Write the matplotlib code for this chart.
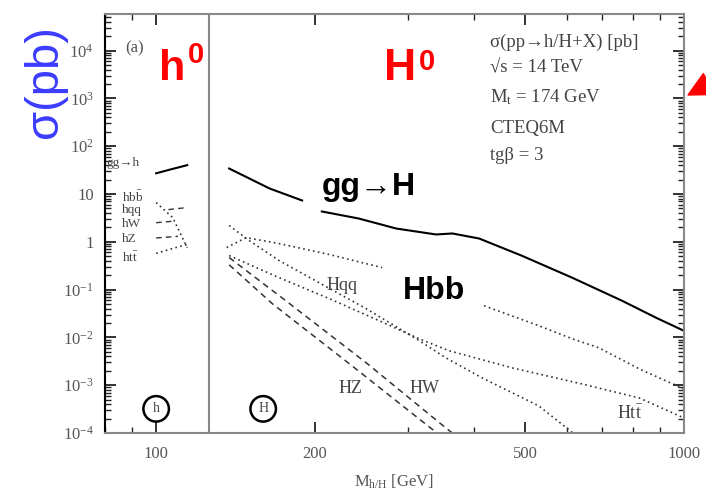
import numpy as np
import matplotlib.pyplot as plt
from matplotlib.ticker import FixedLocator, LogLocator, NullFormatter

plt.rcParams['font.family'] = ['Liberation Serif', 'DejaVu Serif']
plt.rcParams['mathtext.fontset'] = 'custom'
plt.rcParams['mathtext.rm'] = 'Liberation Serif'
plt.rcParams['mathtext.it'] = 'Liberation Serif:italic'

# light scalar h (M_h in GeV, sigma in pb)
m_gg_h = [100, 107, 114.5]
s_gg_h = [27, 33, 40]
m_hbb = [100, 107.5, 114.5]
s_hbb = [6.6, 3.2, 0.75]
m_hqq = [105.5, 114.5]
s_hqq = [4.7, 5.2]
m_hW = [100, 104, 108]
s_hW = [2.5, 2.6, 2.7]
m_hZ = [100, 105, 110]
s_hZ = [1.2, 1.25, 1.3]
m_htt = [100, 110, 114.5]
s_htt = [0.57, 0.78, 0.87]

# heavy scalar H
m_gg_H1 = [137.5, 164, 189]
s_gg_H1 = [34, 13, 7.3]
m_gg_H2 = [206, 242, 285, 339, 364, 409, 493, 614, 763, 885, 1000]
s_gg_H2 = [4.3, 3.06, 1.89, 1.42, 1.49, 1.17, 0.51, 0.177, 0.0585, 0.0258, 0.0137]
m_Hbb1 = [136, 148, 171, 213, 268]
s_Hbb1 = [0.755, 1.22, 0.916, 0.54, 0.288]
m_Hbb2 = [418, 531, 614, 690, 822, 1000]
s_Hbb2 = [0.0459, 0.0175, 0.00935, 0.00605, 0.0022, 0.000835]
m_Hqq = [137.5, 150, 171, 210, 250, 311, 354, 414.5, 531, 616]
s_Hqq = [2.19, 1.06, 0.404, 0.115, 0.0398, 0.00935, 0.00373, 0.00142, 0.000368, 0.0001]
m_Htt = [137.5, 171, 213, 264.5, 315, 359, 472, 641, 822, 1000]
s_Htt = [0.514, 0.177, 0.0644, 0.0223, 0.00935, 0.00524, 0.00231, 0.00106, 0.000542, 0.000206]
m_HW = [137.5, 176, 250, 354, 364]
s_HW = [0.467, 0.0585, 0.00294, 0.000127, 0.0001]
m_HZ = [137.5, 166, 235, 333, 341]
s_HZ = [0.33, 0.0506, 0.00254, 0.000121, 0.0001]

y_ticks = [1e-4, 1e-3, 1e-2, 1e-1, 1, 10, 1e2, 1e3, 1e4]
y_labels = ['10$^{-4}$', '10$^{-3}$', '10$^{-2}$', '10$^{-1}$', '1', '10',
            '10$^{2}$', '10$^{3}$', '10$^{4}$']
x_ticks = [100, 200, 500, 1000]
x_labels = ['100', '200', '500', '1000']

fig = plt.figure(figsize=(7.06, 4.93), dpi=100)
ax = fig.add_axes([105/706, 1-433/493, 579/706, 419/493])
ax.set_xscale('log')
ax.set_yscale('log')
ax.set_xlim(80, 1000)
ax.set_ylim(1e-4, 5.8e4)

dot = (0, (1, 2))
dash = (0, (4, 3))
ink = '#333333'
ax.plot(m_gg_h, s_gg_h, color='black', lw=1.5)
ax.plot(m_hbb, s_hbb, color=ink, lw=1.2, ls=dot)
ax.plot(m_hqq, s_hqq, color=ink, lw=1.0, ls=dash)
ax.plot(m_hW, s_hW, color=ink, lw=1.0, ls=dash)
ax.plot(m_hZ, s_hZ, color=ink, lw=1.0, ls=dash)
ax.plot(m_htt, s_htt, color=ink, lw=1.2, ls=dot)

ax.plot(m_gg_H1, s_gg_H1, color='black', lw=1.5)
ax.plot(m_gg_H2, s_gg_H2, color='black', lw=1.5)
ax.plot(m_Hbb1, s_Hbb1, color=ink, lw=1.2, ls=dot)
ax.plot(m_Hbb2, s_Hbb2, color=ink, lw=1.2, ls=dot)
ax.plot(m_Hqq, s_Hqq, color=ink, lw=1.2, ls=dot)
ax.plot(m_Htt, s_Htt, color=ink, lw=1.2, ls=dot)
ax.plot(m_HW, s_HW, color=ink, lw=1.1, ls=dash)
ax.plot(m_HZ, s_HZ, color=ink, lw=1.1, ls=dash)

ax.axvline(126, color='#888888', lw=1.5)

ax.yaxis.set_major_locator(FixedLocator(y_ticks))
ax.set_yticklabels(y_labels)
ax.yaxis.set_minor_locator(LogLocator(base=10, subs=np.arange(2, 10), numticks=20))
ax.yaxis.set_minor_formatter(NullFormatter())
ax.xaxis.set_major_locator(FixedLocator(x_ticks))
ax.set_xticklabels(x_labels)
ax.xaxis.set_minor_locator(LogLocator(base=10, subs=np.arange(2, 10), numticks=20))
ax.xaxis.set_minor_formatter(NullFormatter())
ax.tick_params(which='both', direction='in', top=True, right=True, colors='#222222',
               labelcolor='#555555', labelsize=12)
ax.tick_params(which='major', length=8, width=1.3)
ax.tick_params(which='minor', length=4, width=1.0)
ax.tick_params(axis='y', pad=8)
ax.tick_params(axis='x', pad=9)
for s in ax.spines.values():
    s.set_color('#888888')
    s.set_linewidth(1.5)
ax.spines['left'].set_color('black')
ax.set_xlabel('M$_{\\rm h/H}$ [GeV]', fontsize=12, color='#555555', labelpad=8)

# curve labels
small = dict(color='#444444', fontsize=9.5, va='center', ha='left')
ax.text(87.5, 1.1e4, '(a)', color='#555555', fontsize=12, va='center')
ax.text(80.4, 45, 'gg\u2192h', **small)
ax.text(86.2, 8.4, 'hb$\\bar{\\rm b}$', **small)
ax.text(86.2, 4.6, 'hqq', **small)
ax.text(86.2, 2.35, 'hW', **small)
ax.text(86.2, 1.12, 'hZ', **small)
ax.text(86.2, 0.467, 'ht$\\bar{\\rm t}$', **small)
mid = dict(color='#444444', fontsize=13, va='center', ha='center')
ax.text(225, 0.121, 'Hqq', **mid)
ax.text(233, 8.4e-4, 'HZ', **mid)
ax.text(322, 8.4e-4, 'HW', **mid)
ax.text(790, 2.5e-4, 'Ht$\\bar{\\rm t}$', **mid)
circ = dict(boxstyle='circle,pad=0.45', fc='white', ec='black', lw=1.8)
ax.text(100, 3.2e-4, 'h', fontsize=10, ha='center', va='center', color='#444444', bbox=circ)
ax.text(159.5, 3.2e-4, 'H', fontsize=10, ha='center', va='center', color='#444444', bbox=circ)

sans = ['Liberation Sans', 'DejaVu Sans']
ax.text(206, 9.3, 'gg\u2192H', family=sans, fontweight='bold', fontsize=23,
        va='baseline', ha='left', color='black')
ax.text(294, 0.0644, 'Hbb', family=sans, fontweight='bold', fontsize=23,
        va='baseline', ha='left', color='black')

# parameter box
info = ['\u03c3(pp\u2192h/H+X) [pb]', '\u221as = 14 TeV', 'M$_{\\rm t}$ = 174 GeV',
        'CTEQ6M', 'tg\u03b2 = 3']
for txt, ypx in zip(info, [42, 68, 97, 128, 155]):
    fig.text(490/706, 1-ypx/493, txt, fontsize=13.5, color='#444444', va='center', ha='left')

# overlays
fig.text(45/706, 1-82/493, '\u03c3(pb)', family=sans, fontsize=34, color='#3c3cff',
         rotation=90, ha='center', va='center')
red = '#ff0000'
fig.text(159/706, 1-80/493, 'h', family=sans, fontweight='bold', fontsize=31,
         color=red, va='baseline', ha='left')
fig.text(188/706, 1-63/493, '0', family=sans, fontweight='bold', fontsize=21,
         color=red, va='baseline', ha='left')
fig.text(384/706, 1-80/493, 'H', family=sans, fontweight='bold', fontsize=32,
         color=red, va='baseline', ha='left')
fig.text(419/706, 1-70/493, '0', family=sans, fontweight='bold', fontsize=21,
         color=red, va='baseline', ha='left')
ax.annotate('', xy=(688, 398), xycoords='figure pixels', xytext=(745, 428),
            textcoords='figure pixels', annotation_clip=False,
            arrowprops=dict(facecolor=red, edgecolor=red, width=3, headwidth=17, headlength=17))

fig.savefig('out.png', dpi=100)
